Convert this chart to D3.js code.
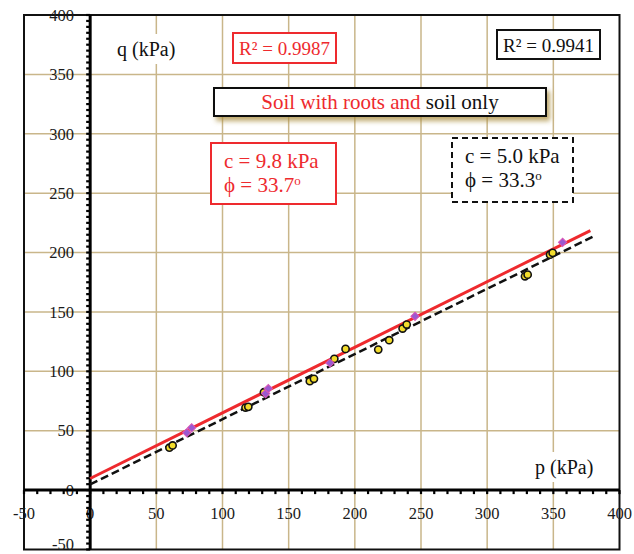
<!DOCTYPE html>
<html>
<head>
<meta charset="utf-8">
<script src="https://cdn.jsdelivr.net/npm/d3@7"></script>
<style>
  body { margin: 0; background: #fff; }
  svg text { font-family: "Liberation Serif", "Times New Roman", serif; }
</style>
</head>
<body>
<div id="chart"></div>
<script>
// soil with roots (diamonds) and soil only (circles), p-q values in kPa
var rootsP = [73, 76.7, 132.6, 134.6, 181.2, 245.5, 357];
var rootsQ = [48.3, 52.5, 81.3, 85.5, 107, 146.3, 208.6];
var soilP = [59.9, 62.3, 117.4, 119.5, 131.3, 166, 169.1, 184.5, 193, 217.7, 226, 236.1, 239.2, 328.6, 330.6, 347.5, 349.5];
var soilQ = [35.7, 37.6, 69.5, 70.1, 82.4, 91.7, 93.7, 110.5, 118.9, 118.3, 126.2, 136, 139.4, 180, 181.4, 198.2, 199.7];

// trend lines (end points)
var rootsFitP = [0, 378];
var rootsFitQ = [9.8, 218.5];
var soilFitP = [0, 380];
var soilFitQ = [4.8, 213.4];

var xTicks = [-50, 0, 50, 100, 150, 200, 250, 300, 350, 400];
var yTicks = [-50, 0, 50, 100, 150, 200, 250, 300, 350, 400];

var width = 634, height = 554;
var grid = "#c9b68a";
var red = "#ee2a2e";

var svg = d3.select("#chart").append("svg")
  .attr("width", width)
  .attr("height", height);

var defs = svg.append("defs");
var shadow = defs.append("filter").attr("id", "shadow")
  .attr("x", "-10%").attr("y", "-30%").attr("width", "130%").attr("height", "190%");
shadow.append("feDropShadow")
  .attr("dx", 3).attr("dy", 4).attr("stdDeviation", 2.5)
  .attr("flood-color", "#a88a3a").attr("flood-opacity", 0.75);

var x = d3.scaleLinear().domain([-50, 400]).range([24, 619.5]);
var y = d3.scaleLinear().domain([-50, 400]).range([549.5, 15]);

// grid lines
svg.append("g").selectAll("line.v")
  .data(xTicks.filter(function(d) { return d > -50 && d < 400 && d != 0; }))
  .enter().append("line")
    .attr("x1", function(d) { return x(d); })
    .attr("x2", function(d) { return x(d); })
    .attr("y1", y(400)).attr("y2", y(-50))
    .attr("stroke", grid).attr("stroke-width", 1.5);

svg.append("g").selectAll("line.h")
  .data(yTicks.filter(function(d) { return d > -50 && d < 400 && d != 0; }))
  .enter().append("line")
    .attr("x1", x(-50)).attr("x2", x(400))
    .attr("y1", function(d) { return y(d); })
    .attr("y2", function(d) { return y(d); })
    .attr("stroke", grid).attr("stroke-width", 1.5);

// frame
svg.append("rect")
  .attr("x", x(-50)).attr("y", y(400))
  .attr("width", x(400) - x(-50)).attr("height", y(-50) - y(400))
  .attr("fill", "none").attr("stroke", "#111").attr("stroke-width", 2);

// tick labels (the bottom one sits a bit higher so it stays in the window)
svg.append("g").selectAll("text")
  .data(yTicks)
  .enter().append("text")
    .attr("x", 74)
    .attr("y", function(d) { return Math.min(y(d), 544); })
    .attr("dy", "0.35em")
    .attr("text-anchor", "end")
    .attr("font-size", 16.5)
    .attr("fill", "#1a1a1a")
    .text(function(d) { return d; });

svg.append("g").selectAll("text")
  .data(xTicks)
  .enter().append("text")
    .attr("x", function(d) { return x(d); })
    .attr("y", 513)
    .attr("dy", "0.35em")
    .attr("text-anchor", "middle")
    .attr("font-size", 16.5)
    .attr("fill", "#1a1a1a")
    .text(function(d) { return d; });

// axes through the origin
svg.append("line")
  .attr("x1", x(-50)).attr("x2", x(400))
  .attr("y1", y(0)).attr("y2", y(0))
  .attr("stroke", "#000").attr("stroke-width", 3);
svg.append("line")
  .attr("x1", x(0)).attr("x2", x(0))
  .attr("y1", y(400)).attr("y2", y(-50))
  .attr("stroke", "#000").attr("stroke-width", 3);

// minor ticks
svg.append("g").selectAll("line")
  .data(d3.range(-50, 401, 10))
  .enter().append("line")
    .attr("x1", function(d) { return x(d); })
    .attr("x2", function(d) { return x(d); })
    .attr("y1", y(0)).attr("y2", y(0) + 4)
    .attr("stroke", "#000").attr("stroke-width", 2.2);

svg.append("g").selectAll("line")
  .data(d3.range(-50, 401, 5))
  .enter().append("line")
    .attr("x1", x(0) - 4).attr("x2", x(0))
    .attr("y1", function(d) { return y(d); })
    .attr("y2", function(d) { return y(d); })
    .attr("stroke", "#000").attr("stroke-width", 2.2);

// trend lines
var line = d3.line()
  .x(function(d) { return x(d[0]); })
  .y(function(d) { return y(d[1]); });

svg.append("path")
  .attr("d", line(d3.zip(soilFitP, soilFitQ)))
  .attr("fill", "none").attr("stroke", "#111")
  .attr("stroke-width", 2.5).attr("stroke-dasharray", "8,4");

svg.append("path")
  .attr("d", line(d3.zip(rootsFitP, rootsFitQ)))
  .attr("fill", "none").attr("stroke", red)
  .attr("stroke-width", 3);

// points
svg.append("g").selectAll("circle")
  .data(d3.zip(soilP, soilQ))
  .enter().append("circle")
    .attr("cx", function(d) { return x(d[0]); })
    .attr("cy", function(d) { return y(d[1]); })
    .attr("r", 3.6)
    .attr("fill", "#f2dc2c")
    .attr("stroke", "#111").attr("stroke-width", 1.6);

svg.append("g").selectAll("path")
  .data(d3.zip(rootsP, rootsQ))
  .enter().append("path")
    .attr("transform", function(d) { return "translate(" + x(d[0]) + "," + y(d[1]) + ") rotate(45)"; })
    .attr("d", d3.symbol().type(d3.symbolSquare).size(34))
    .attr("fill", "#9a5ad0")
    .attr("stroke", "#d954b8").attr("stroke-width", 1);

// axis titles with white backing
svg.append("rect").attr("x", 112).attr("y", 34).attr("width", 72).attr("height", 30).attr("fill", "#fff");
svg.append("text").attr("x", 117).attr("y", 49).attr("dy", "0.35em")
  .attr("font-size", 20).attr("fill", "#111").text("q (kPa)");

svg.append("rect").attr("x", 530).attr("y", 452).attr("width", 76).attr("height", 30).attr("fill", "#fff");
svg.append("text").attr("x", 535).attr("y", 467).attr("dy", "0.35em")
  .attr("font-size", 20).attr("fill", "#111").text("p (kPa)");

// R² boxes
svg.append("rect").attr("x", 233).attr("y", 33).attr("width", 103).attr("height", 30)
  .attr("fill", "#fff").attr("stroke", red).attr("stroke-width", 2);
svg.append("text").attr("x", 284.5).attr("y", 48).attr("dy", "0.35em")
  .attr("text-anchor", "middle").attr("font-size", 19).attr("fill", red).text("R² = 0.9987");

svg.append("rect").attr("x", 497).attr("y", 30).attr("width", 103).attr("height", 29)
  .attr("fill", "#fff").attr("stroke", "#111").attr("stroke-width", 2);
svg.append("text").attr("x", 548.5).attr("y", 45).attr("dy", "0.35em")
  .attr("text-anchor", "middle").attr("font-size", 19).attr("fill", "#111").text("R² = 0.9941");

// legend title
svg.append("rect").attr("x", 214).attr("y", 88).attr("width", 332).attr("height", 28)
  .attr("fill", "#fff").attr("stroke", "#111").attr("stroke-width", 2)
  .attr("filter", "url(#shadow)");
var title = svg.append("text").attr("x", 380).attr("y", 102).attr("dy", "0.35em")
  .attr("text-anchor", "middle").attr("font-size", 21);
title.append("tspan").attr("fill", red).text("Soil with roots and ");
title.append("tspan").attr("fill", "#111").text("soil only");

// strength parameters
function paramBox(bx, by, bw, bh, col, dashed, cText, phiText) {
  svg.append("rect").attr("x", bx).attr("y", by).attr("width", bw).attr("height", bh)
    .attr("fill", "#fff").attr("stroke", col).attr("stroke-width", 2)
    .attr("stroke-dasharray", dashed ? "6,4" : null);
  svg.append("text").attr("x", bx + 13).attr("y", by + 18).attr("dy", "0.35em")
    .attr("font-size", 21).attr("fill", col).text(cText);
  var t = svg.append("text").attr("x", bx + 13).attr("y", by + 42).attr("dy", "0.35em")
    .attr("font-size", 21).attr("fill", col);
  t.append("tspan").text(phiText);
  t.append("tspan").attr("font-size", 13).attr("dy", "-0.6em").text("o");
}
paramBox(211, 143, 125, 61, red, false, "c = 9.8 kPa", "ϕ = 33.7");
paramBox(452, 138, 121, 64, "#111", true, "c = 5.0 kPa", "ϕ = 33.3");
</script>
</body>
</html>
